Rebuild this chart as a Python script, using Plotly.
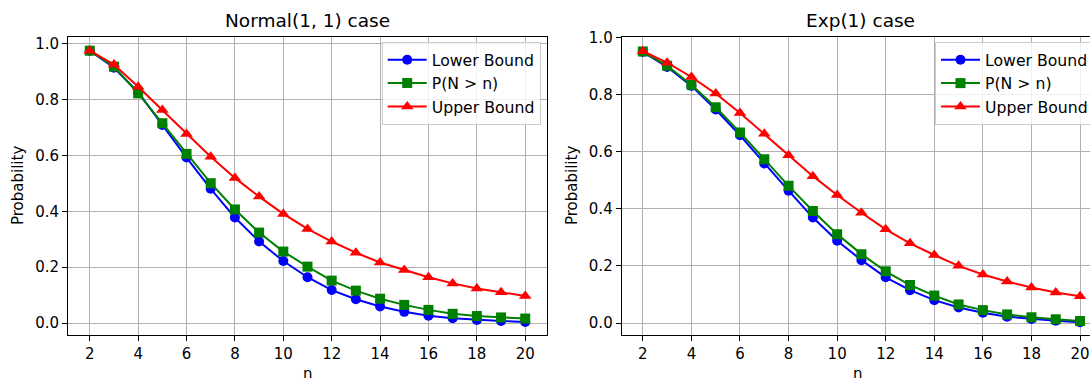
import plotly.graph_objects as go

n_vals = list(range(2, 21))

normal_lower = [0.976, 0.915, 0.827, 0.710, 0.593, 0.481, 0.378, 0.292, 0.222, 0.164,
                0.118, 0.085, 0.059, 0.040, 0.026, 0.017, 0.011, 0.007, 0.004]
normal_true = [0.976, 0.919, 0.823, 0.716, 0.606, 0.501, 0.407, 0.324, 0.256, 0.202,
               0.152, 0.116, 0.087, 0.065, 0.047, 0.033, 0.025, 0.020, 0.016]
normal_upper = [0.976, 0.926, 0.847, 0.763, 0.677, 0.596, 0.520, 0.453, 0.391, 0.337,
                0.292, 0.252, 0.217, 0.190, 0.164, 0.142, 0.124, 0.110, 0.097]

exp_lower = [0.949, 0.896, 0.830, 0.747, 0.657, 0.558, 0.463, 0.369, 0.288, 0.220,
             0.160, 0.115, 0.080, 0.054, 0.036, 0.022, 0.014, 0.008, 0.003]
exp_true = [0.950, 0.900, 0.834, 0.755, 0.667, 0.573, 0.480, 0.392, 0.311, 0.241,
            0.181, 0.133, 0.096, 0.065, 0.045, 0.030, 0.020, 0.013, 0.007]
exp_upper = [0.951, 0.911, 0.861, 0.803, 0.735, 0.662, 0.587, 0.514, 0.448, 0.386,
             0.328, 0.279, 0.238, 0.200, 0.170, 0.145, 0.124, 0.107, 0.094]

series_names = ["Lower Bound", "P(N > n)", "Upper Bound"]
series_colors = ["#0000ff", "#008000", "#ff0000"]
series_symbols = ["circle", "square", "triangle-up"]
titles = ["Normal(1, 1) case", "Exp(1) case"]

W, H = 1090, 378
FONT = "DejaVu Sans"

fig = go.Figure()

panels = [
    (normal_lower, normal_true, normal_upper),
    (exp_lower, exp_true, exp_upper),
]

for p, data in enumerate(panels):
    xa = "x" if p == 0 else "x2"
    ya = "y" if p == 0 else "y2"
    lg = "legend" if p == 0 else "legend2"
    for name, vals, col, sym in zip(series_names, data, series_colors, series_symbols):
        fig.add_trace(go.Scatter(
            x=n_vals, y=vals, name=name, mode="lines+markers",
            line=dict(color=col, width=2),
            marker=dict(color=col, symbol=sym, size=10 if sym != "triangle-up" else 11,
                        line=dict(width=0)),
            xaxis=xa, yaxis=ya, legend=lg,
        ))

def px_x(v):
    return v / W

def px_y(v):
    return (H - v) / H

axis_common = dict(
    showgrid=True, gridcolor="#b0b0b0", gridwidth=1,
    showline=True, linecolor="black", linewidth=1,
    ticks="outside", ticklen=5, tickwidth=1, tickcolor="black",
    zeroline=False,
    tickfont=dict(family=FONT, size=15, color="black"),
)

legend_common = dict(
    xanchor="left", yanchor="top", itemwidth=39,
    bgcolor="rgba(255,255,255,0.8)", bordercolor="#cccccc", borderwidth=1,
    font=dict(family=FONT, size=15.7, color="black"),
)

fig.update_layout(
    width=W, height=H,
    margin=dict(l=0, r=0, t=0, b=0, autoexpand=False),
    paper_bgcolor="white", plot_bgcolor="white",
    font=dict(family=FONT, color="black"),
    xaxis=dict(domain=[px_x(68), px_x(547)], range=[1.1, 20.9], tickvals=list(range(2, 21, 2)),
               mirror=True, anchor="y", **axis_common),
    yaxis=dict(domain=[px_y(335), px_y(37)], range=[-0.043, 1.025],
               tickvals=[0.0, 0.2, 0.4, 0.6, 0.8, 1.0], tickformat=".1f",
               mirror=True, anchor="x", **axis_common),
    xaxis2=dict(domain=[px_x(621.7), 1.0], range=[1.13, 20.41], tickvals=list(range(2, 21, 2)),
                mirror=True, anchor="y2", **axis_common),
    yaxis2=dict(domain=[px_y(335), px_y(36.7)], range=[-0.042, 1.002],
                tickvals=[0.0, 0.2, 0.4, 0.6, 0.8, 1.0], tickformat=".1f",
                mirror=False, anchor="x2", **axis_common),
    legend=dict(x=px_x(381.7), y=px_y(42), **legend_common),
    legend2=dict(x=px_x(935), y=px_y(42), **legend_common),
    showlegend=True,
)

annotations = [
    dict(text=titles[0], x=px_x(307.5), y=px_y(20), xref="paper", yref="paper",
         xanchor="center", yanchor="middle", showarrow=False,
         font=dict(family=FONT, size=18.5, color="black")),
    dict(text=titles[1], x=px_x(860), y=px_y(20), xref="paper", yref="paper",
         xanchor="center", yanchor="middle", showarrow=False,
         font=dict(family=FONT, size=18.5, color="black")),
    dict(text="Probability", x=px_x(18), y=px_y(186), xref="paper", yref="paper",
         xanchor="center", yanchor="middle", textangle=-90, showarrow=False,
         font=dict(family=FONT, size=15, color="black")),
    dict(text="Probability", x=px_x(572), y=px_y(186), xref="paper", yref="paper",
         xanchor="center", yanchor="middle", textangle=-90, showarrow=False,
         font=dict(family=FONT, size=15, color="black")),
    dict(text="n", x=px_x(307.5), y=px_y(374), xref="paper", yref="paper",
         xanchor="center", yanchor="middle", showarrow=False,
         font=dict(family=FONT, size=15, color="black")),
    dict(text="n", x=px_x(858), y=px_y(374), xref="paper", yref="paper",
         xanchor="center", yanchor="middle", showarrow=False,
         font=dict(family=FONT, size=15, color="black")),
]
fig.update_layout(annotations=annotations)

fig.write_html(
    "out.html",
    config={"displayModeBar": False},
    post_script="document.body.style.margin='0';document.body.style.overflow='hidden';",
)
